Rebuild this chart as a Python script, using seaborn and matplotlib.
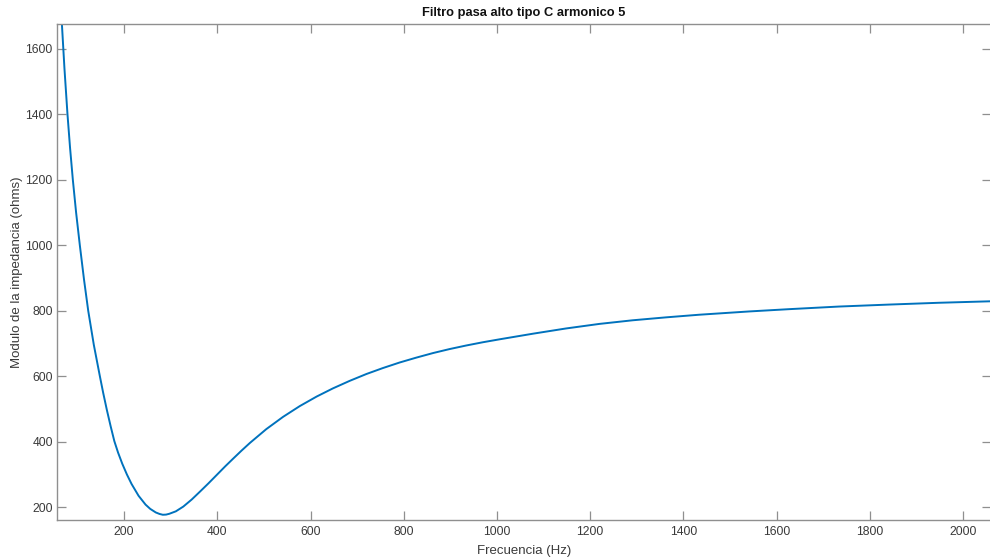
import matplotlib
matplotlib.use("Agg")
import matplotlib.pyplot as plt
import seaborn as sns
import pandas as pd

# Impedance magnitude of the 5th-harmonic C-type high-pass filter
frecuencia_hz = [60, 63, 66.5, 72, 78.5, 84, 90, 97, 105, 114, 123, 135, 148, 155,
                 163, 171, 179, 187, 196, 206, 216, 231, 246, 256, 268, 276, 283,
                 290, 297, 311, 327, 345, 363, 381, 399, 417, 434, 452, 470, 505,
                 541, 577, 613, 648, 684, 720, 755, 791, 827, 863, 898, 934, 970,
                 1006, 1077, 1148, 1220, 1291, 1363, 1434, 1541, 1627, 1734, 1841,
                 1948, 2058]
modulo_ohms = [1863, 1771, 1676, 1540, 1400, 1298, 1200, 1100, 1000, 895, 800, 696,
               600, 550, 497, 448, 402, 367, 333, 300, 271, 235, 208, 195, 184,
               179.5, 177, 177.5, 180, 187.5, 202, 223.5, 248, 273, 299, 325,
               348.5, 373, 396.5, 438.5, 476, 509, 538, 563, 586, 607, 625, 642,
               657, 671, 683, 694, 704, 713, 730, 746, 760, 771, 780, 788, 798,
               805, 813, 819, 824.5, 829]

x_ticks = [200, 400, 600, 800, 1000, 1200, 1400, 1600, 1800, 2000]
y_ticks = [200, 400, 600, 800, 1000, 1200, 1400, 1600]

titulo = "Filtro pasa alto tipo C armonico 5"
etiqueta_x = "Frecuencia (Hz)"
etiqueta_y = "Modulo de la impedancia (ohms)"

sns.set_theme(style="white")
plt.rcParams["font.family"] = ["Liberation Sans", "DejaVu Sans"]

df = pd.DataFrame({"f": frecuencia_hz, "z": modulo_ohms})

fig = plt.figure(figsize=(9.9, 5.58), dpi=100)
ax = fig.add_axes([57 / 990, 1 - 520 / 558, 934 / 990, (520 - 24) / 558])

sns.lineplot(data=df, x="f", y="z", ax=ax, color="#0072BD", linewidth=1.4,
             sort=False, estimator=None)

ax.set_xlim(56, 2060)
ax.set_ylim(161, 1676)
ax.set_xticks(x_ticks)
ax.set_yticks(y_ticks)

eje_color = "#8f8f8f"
texto_color = "#3a3a3a"
for s in ax.spines.values():
    s.set_visible(True)
    s.set_color(eje_color)
    s.set_linewidth(1.0)

ax.tick_params(axis="both", which="both", direction="in", length=6.5, width=0.9,
               color=eje_color, labelcolor=texto_color, labelsize=8.7,
               top=True, right=True, bottom=True, left=True)
ax.tick_params(axis="x", pad=4)
ax.tick_params(axis="y", pad=3)

ax.set_title(titulo, fontsize=9.3, fontweight="bold", color="#111111", pad=6)
ax.set_xlabel(etiqueta_x, fontsize=9.5, color=texto_color, labelpad=5.5)
ax.set_ylabel(etiqueta_y, fontsize=9.5, color=texto_color, labelpad=1.5)
ax.grid(False)

fig.savefig("out.png", dpi=100, facecolor="white")
